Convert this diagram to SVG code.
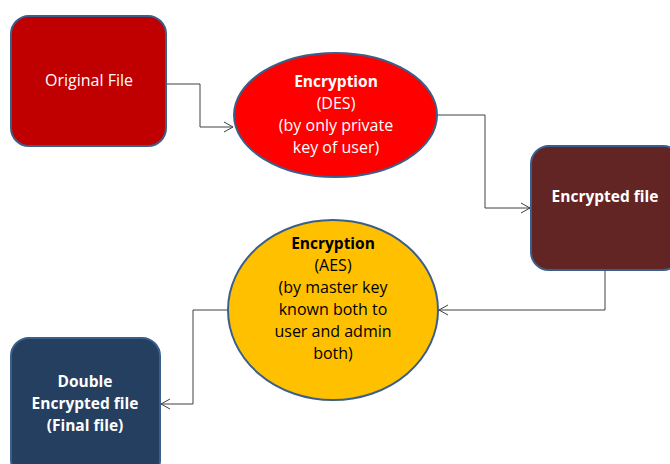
<svg xmlns="http://www.w3.org/2000/svg" width="670" height="464" viewBox="0 0 670 464">
<defs>
<style>
.n{stroke:#3A5F8B;stroke-width:2}
.t{font-family:"Open Sans","Liberation Sans",sans-serif;font-size:16px;text-anchor:middle}
.b{font-weight:bold;font-size:15.5px}
.w{fill:#FFFFFF}
.k{fill:#000000}
.c{fill:none;stroke:#404040;stroke-width:1}
</style>
<marker id="a" markerWidth="12" markerHeight="12" refX="10" refY="6" orient="auto" markerUnits="userSpaceOnUse">
<path d="M1,1 L10,6 L1,11" fill="none" stroke="#404040" stroke-width="1"/>
</marker>
</defs>
<rect width="670" height="464" fill="#FFFFFF"/>
<g id="connectors">
<polyline class="c" points="166,84 200,84 200,127 233,127" marker-end="url(#a)"/>
<polyline class="c" points="437,115 485,115 485,208 530,208" marker-end="url(#a)"/>
<polyline class="c" points="605,270 605,310 439,310" marker-end="url(#a)"/>
<polyline class="c" points="228,310 193,310 193,404 161,404" marker-end="url(#a)"/>
</g>
<g id="original">
<rect class="n" x="11" y="16" width="155" height="130" rx="18" fill="#C00000"/>
<text class="t w" x="89" y="86">Original File</text>
</g>
<g id="des">
<ellipse class="n" cx="335.5" cy="115" rx="101.5" ry="62" fill="#FF0000"/>
<text class="t w" x="336" y="87"><tspan class="b">Encryption</tspan><tspan x="336" dy="22">(DES)</tspan><tspan x="336" dy="22">(by only private</tspan><tspan x="336" dy="22">key of user)</tspan></text>
</g>
<g id="encrypted">
<rect class="n" x="531" y="146" width="150" height="124" rx="18" fill="#632523"/>
<text class="t w b" x="605" y="202">Encrypted file</text>
</g>
<g id="aes">
<ellipse class="n" cx="333" cy="310" rx="105" ry="90" fill="#FFC000"/>
<text class="t k" x="333" y="249"><tspan class="b">Encryption</tspan><tspan x="333" dy="22">(AES)</tspan><tspan x="333" dy="22">(by master key</tspan><tspan x="333" dy="22">known both to</tspan><tspan x="333" dy="22">user and admin</tspan><tspan x="333" dy="22">both)</tspan></text>
</g>
<g id="double">
<rect class="n" x="11" y="338" width="149" height="140" rx="18" fill="#243F60"/>
<text class="t w b" x="85" y="387">Double<tspan x="85" dy="22">Encrypted file</tspan><tspan x="85" dy="22">(Final file)</tspan></text>
</g>
</svg>
